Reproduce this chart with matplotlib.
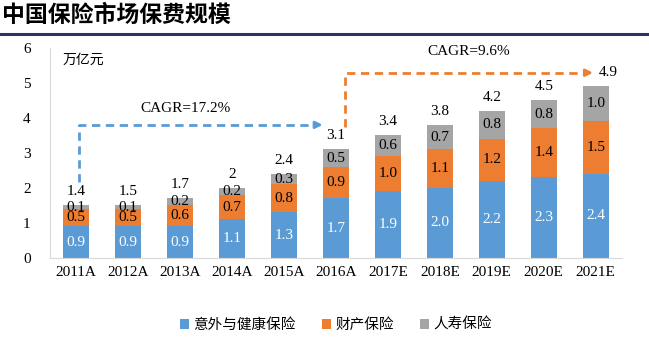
import numpy as np
import matplotlib
matplotlib.use("Agg")
import matplotlib.pyplot as plt

years = ["2011A", "2012A", "2013A", "2014A", "2015A", "2016A",
         "2017E", "2018E", "2019E", "2020E", "2021E"]
health = [0.9, 0.9, 0.9, 1.1, 1.3, 1.7, 1.9, 2.0, 2.2, 2.3, 2.4]
prop = [0.5, 0.5, 0.6, 0.7, 0.8, 0.9, 1.0, 1.1, 1.2, 1.4, 1.5]
life = [0.1, 0.1, 0.2, 0.2, 0.3, 0.5, 0.6, 0.7, 0.8, 0.8, 1.0]
totals = ["1.4", "1.5", "1.7", "2", "2.4", "3.1", "3.4", "3.8", "4.2", "4.5", "4.9"]
names = ["意外与健康保险", "财产保险", "人寿保险"]
colors = ["#5B9BD5", "#ED7D31", "#A5A5A5"]

SERIF = ["Liberation Serif", "DejaVu Serif"]
CJK = ["Noto Sans CJK SC", "DejaVu Sans"]

fig = plt.figure(figsize=(6.49, 3.42), dpi=100)
ax = fig.add_axes([0.077, 0.246, 0.881, 0.614])

x = np.arange(len(years))
w = 0.5
h = np.array(health); p = np.array(prop); l = np.array(life)
ax.bar(x, h, w, color=colors[0], label=names[0])
ax.bar(x, p, w, bottom=h, color=colors[1], label=names[1])
ax.bar(x, l, w, bottom=h + p, color=colors[2], label=names[2])

for i in range(len(x)):
    ax.text(x[i], h[i] / 2, f"{h[i]:.1f}", ha="center", va="center",
            color="white", fontsize=11, family=SERIF)
    ax.text(x[i], h[i] + p[i] / 2, f"{p[i]:.1f}", ha="center", va="center",
            color="black", fontsize=11, family=SERIF)
    ax.text(x[i], h[i] + p[i] + l[i] / 2, f"{l[i]:.1f}", ha="center", va="center",
            color="black", fontsize=11, family=SERIF)
    top = h[i] + p[i] + l[i]
    if i < len(x) - 1:
        ax.text(x[i], top + 0.39, totals[i], ha="center", va="center",
                fontsize=11, family=SERIF)

# CAGR arrows
ax.plot([0.05, 0.05, 4.6], [2.17, 3.8, 3.8], ls=(0, (3, 2)), color=colors[0], lw=2)
ax.annotate("", xy=(4.8, 3.8), xytext=(4.55, 3.8),
            arrowprops=dict(arrowstyle="-|>", color=colors[0], lw=2, mutation_scale=10))
ax.text(2.1, 4.27, "CAGR=17.2%", ha="center", va="center", fontsize=11, family=SERIF)

ax.plot([5.17, 5.17, 9.8], [3.74, 5.29, 5.29], ls=(0, (3, 2)), color=colors[1], lw=2)
ax.annotate("", xy=(10.0, 5.29), xytext=(9.75, 5.29),
            arrowprops=dict(arrowstyle="-|>", color=colors[1], lw=2, mutation_scale=10))
ax.text(10.05, 5.29, totals[-1], ha="left", va="center", fontsize=11, family=SERIF)
ax.text(7.55, 5.9, "CAGR=9.6%", ha="center", va="center", fontsize=11, family=SERIF)

ax.text(-0.25, 5.65, "万亿元", ha="left", va="center", fontsize=10, family=CJK)

ax.set_xlim(-0.5, len(x) - 0.5)
ax.set_ylim(0, 6)
ax.set_xticks(x)
ax.set_xticklabels(years, family=SERIF, fontsize=11)
ax.set_yticks(range(7))
ax.set_yticklabels([str(v) for v in range(7)], family=SERIF, fontsize=11)
ax.tick_params(length=0, pad=14)
ax.tick_params(axis="x", pad=6)
for s in ["top", "right"]:
    ax.spines[s].set_visible(False)
for s in ["left", "bottom"]:
    ax.spines[s].set_color("#D9D9D9")

ax.legend(loc="center", bbox_to_anchor=(0.5, -0.32), ncol=3, frameon=False,
          prop={"family": CJK, "size": 10.5}, handlelength=0.6, handleheight=0.6,
          handletextpad=0.3, columnspacing=1.8)

fig.text(0.003, 0.955, "中国保险市场保费规模", ha="left", va="center",
         fontsize=16.5, fontweight="bold", family=CJK)
fig.add_artist(plt.Line2D([0, 1], [0.9, 0.9], color="#2E3462", lw=2.2,
                          transform=fig.transFigure))

fig.savefig("out.png", dpi=100)
